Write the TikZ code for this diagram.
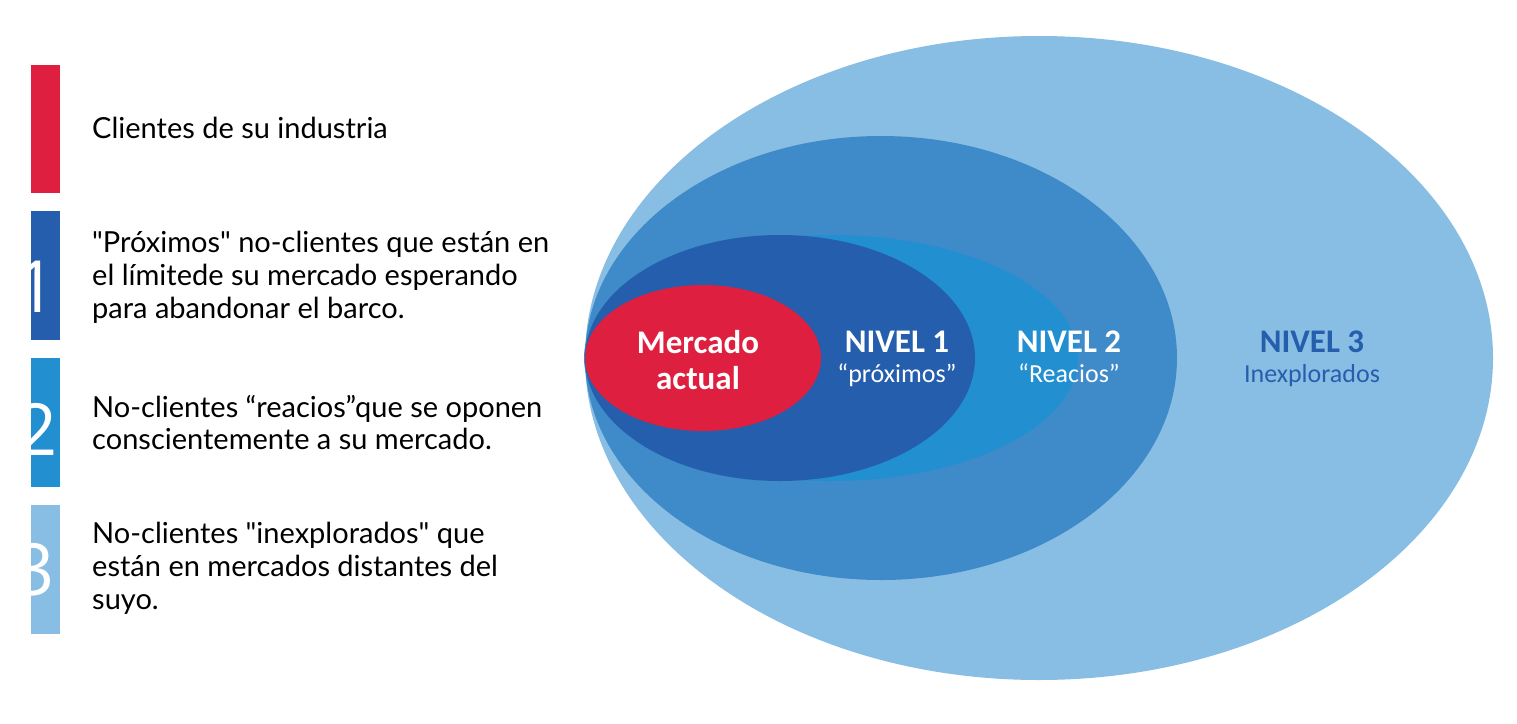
\documentclass[tikz,border=0pt]{standalone}
\usepackage{fontspec}
\setmainfont{Lato}[Ligatures=TeXOff]
\newfontfamily\calibri{Carlito}
\newfontfamily\digitfont{Open Sans}
\definecolor{cred}{HTML}{DE1F3F}
\definecolor{cdark}{HTML}{255EAD}
\definecolor{cmid}{HTML}{2290D0}
\definecolor{cring}{HTML}{3F8AC8}
\definecolor{clight}{HTML}{88BEE4}
\tikzset{
  legtext/.style={anchor=base west, inner sep=0pt, font=\fontsize{29}{33}\selectfont, text=black},
  digit/.style={anchor=base, inner sep=0pt, font=\digitfont\fontsize{72}{72}\selectfont, text=white},
  lvlhead/.style={anchor=base, inner sep=0pt, font=\calibri\bfseries\fontsize{33}{36}\selectfont},
  lvlsub/.style={anchor=base, inner sep=0pt, font=\calibri\fontsize{26}{30}\selectfont},
}
\begin{document}
\begin{tikzpicture}[x=1pt,y=-1pt]
\useasboundingbox[fill=white] (0,0) rectangle (1517,723);
% ellipses
\fill[clight] (1039,358) ellipse [x radius=454, y radius=322];
\fill[cring] (881,358) ellipse [x radius=296, y radius=222];
\fill[cmid] (831,358) ellipse [x radius=247, y radius=123];
\fill[cdark] (780,358) ellipse [x radius=195, y radius=123];
\fill[cred] (703,358) ellipse [x radius=118, y radius=73];
% ellipse labels
\node[lvlhead, text=white] (m1) at (698,353) {Mercado};
\node[lvlhead, text=white] (m2) at (698,389) {actual};
\node[lvlhead, text=white] (n1) at (897,352) {NIVEL 1};
\node[lvlsub, text=white] (p1) at (897,382) {“próximos”};
\node[lvlhead, text=white] (n2) at (1069,352) {NIVEL 2};
\node[lvlsub, text=white] (p2) at (1069,382) {“Reacios”};
\node[lvlhead, text=cdark] (n3) at (1312,352) {NIVEL 3};
\node[lvlsub, text=cdark] (p3) at (1312,382) {Inexplorados};
% legend bars
\fill[cred] (31,65) rectangle (60,193);
\fill[cdark] (31,211) rectangle (60,340);
\fill[cmid] (31,358) rectangle (60,487);
\fill[clight] (31,505) rectangle (60,634);
\begin{scope}
\clip (31,211) rectangle (60,340);
\node[digit] (d1) at (36,312) {1};
\end{scope}
\begin{scope}
\clip (31,358) rectangle (60,487);
\node[digit] (d2) at (37,455) {2};
\end{scope}
\begin{scope}
\clip (31,505) rectangle (60,634);
\node[digit] (d3) at (34,595) {3};
\end{scope}
% legend texts
\node[legtext] (t0) at (92,138) {Clientes de su industria};
\node[legtext] (t1a) at (92,252) {"Próximos" no-clientes que están en};
\node[legtext] (t1b) at (92,285) {el límitede su mercado esperando};
\node[legtext] (t1c) at (92,318) {para abandonar el barco.};
\node[legtext] (t2a) at (92,417) {No-clientes “reacios”que se oponen};
\node[legtext] (t2b) at (92,449) {conscientemente a su mercado.};
\node[legtext] (t3a) at (92,543) {No-clientes "inexplorados" que};
\node[legtext] (t3b) at (92,576) {están en mercados distantes del};
\node[legtext] (t3c) at (92,609) {suyo.};
\end{tikzpicture}
\end{document}
